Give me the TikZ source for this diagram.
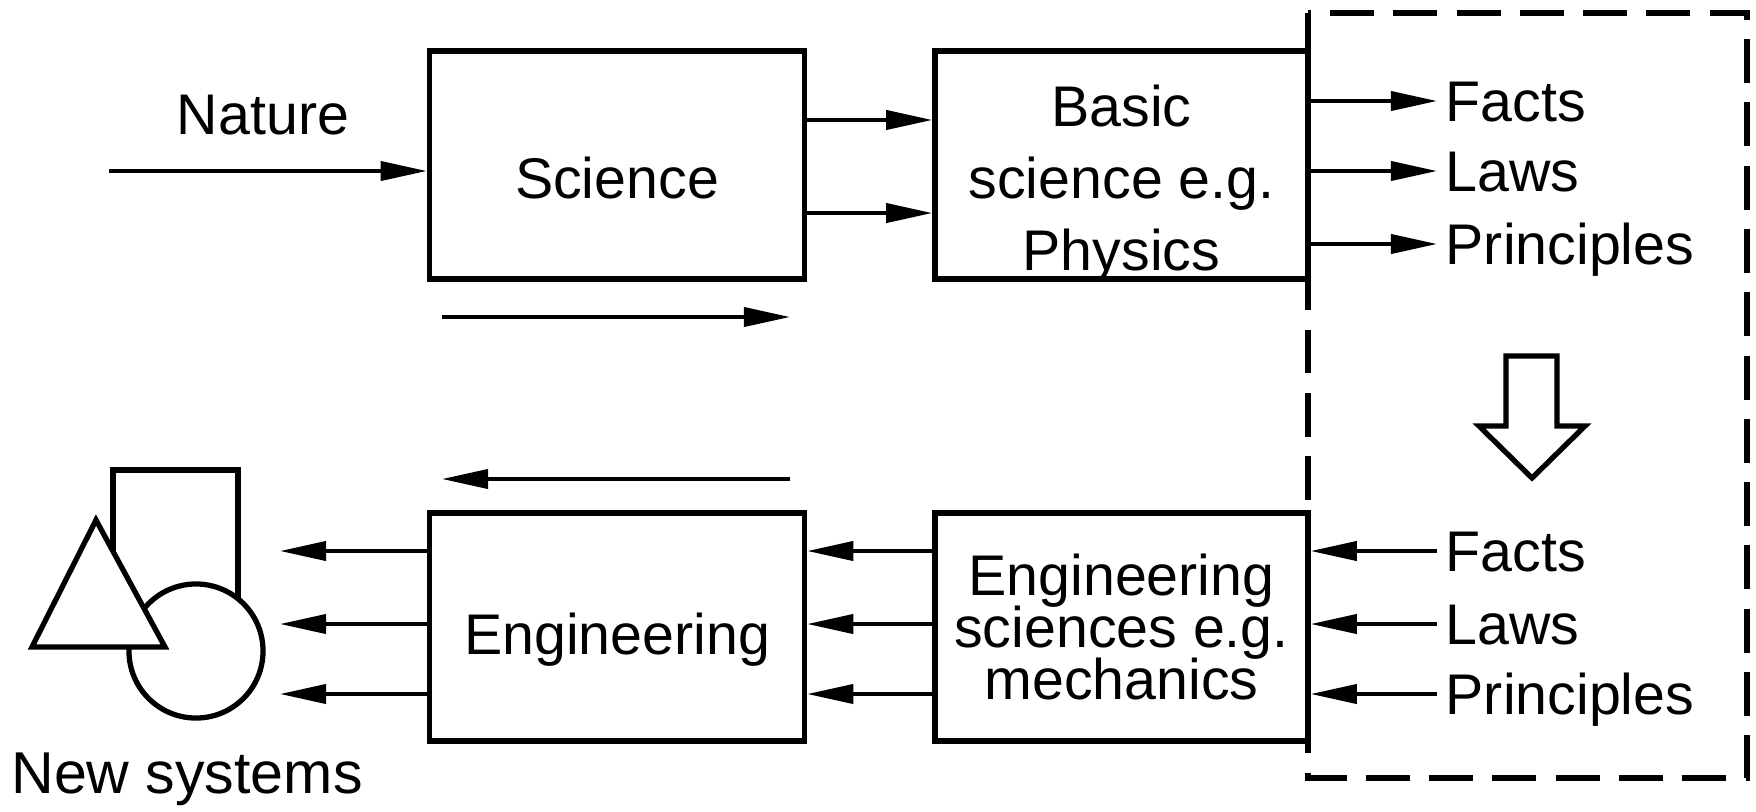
\documentclass[tikz,border=0pt]{standalone}
\usepackage{fontspec}
\setmainfont{Liberation Sans}
\usetikzlibrary{arrows.meta}

\tikzset{
  box/.style={draw,line width=1.5pt,minimum width=3.75cm,minimum height=2.28cm,inner sep=0pt,align=center},
  arr/.style={line width=1.1pt,-{Triangle[length=4.6mm,width=1.9mm]}},
  fact/.style={anchor=west,inner sep=0.08cm,text height=11.7pt,text depth=0pt},
  outline/.style={line width=1.5pt,fill=white},
}

\begin{document}
\begin{tikzpicture}[x=0.01cm,y=-0.01cm,font=\fontsize{16.3}{20.5}\selectfont]
  \useasboundingbox (0,0) rectangle (1756,811);

  % dashed frame round the laws
  \draw[line width=1.5pt,dash pattern=on 12.5pt off 5.5pt] (1308,13) rectangle (1747,778);
  \draw[line width=1.5pt] (1308,13) -- (1308,310);

  % the four blocks
  \node (sci) [box,label={[yshift=-0.13cm]center:Science}] at (617,165) {};
  \node (basic) [box,minimum width=3.73cm,
    label={[align=center,yshift=-0.19cm]center:Basic\\science e.g.\\Physics}] at (1121.5,165) {};
  \node (eng) [box,label={[yshift=-0.13cm]center:Engineering}] at (617,627) {};
  \node (engsci) [box,minimum width=3.73cm] at (1121.5,627) {Engineering\\[-5.7pt]sciences e.g.\\[-5.7pt]mechanics};

  % labels
  \node (nat) at (263,115) {Nature};
  \node (f1) [fact] at (1437,101) {Facts};
  \node (l1) [fact] at (1437,171) {Laws};
  \node (p1) [fact] at (1437,244) {Principles};
  \node (f2) [fact] at (1437,551) {Facts};
  \node (l2) [fact] at (1437,624) {Laws};
  \node (p2) [fact] at (1437,694) {Principles};
  \node (sys) [anchor=base,font=\fontsize{16.8}{20}\selectfont] at (187,793) {New systems};

  % connectors
  \coordinate (natin) at (109,171);
  \coordinate (sysin) at (280,624);
  \draw[arr] (natin) -- (natin -| sci.west);
  \foreach \s in {0.45,-0.48}
    \draw[arr] ([yshift=\s cm]sci.east) -- ([yshift=\s cm]basic.west);
  \foreach \n in {f1,l1,p1}
    \draw[arr] (basic.east |- \n) -- (\n.west);
  \foreach \n in {f2,l2,p2} {
    \draw[arr] (\n.west) -- (engsci.east |- \n);
    \draw[arr] (engsci.west |- \n) -- (eng.east |- \n);
    \draw[arr] (eng.west |- \n) -- (sysin |- \n);
  }

  % direction arrows
  \coordinate (sa) at (442,317); \coordinate (sb) at (790,317);
  \coordinate (ea) at (790,479); \coordinate (eb) at (442,479);
  \draw[arr] (sa) -- (sb);
  \draw[arr] (ea) -- (eb);

  % hollow arrow
  \draw[line width=1.5pt] (1506,356) -- (1557,356) -- (1557,426) -- (1585,426)
    -- (1532,478) -- (1479,426) -- (1506,426) -- cycle;

  % new systems
  \draw[outline] (113,470) rectangle (238,615);
  \draw[outline] (196,651) circle[radius=0.67cm];
  \draw[outline] (32,647) -- (96,520) -- (165,647) -- cycle;
\end{tikzpicture}
\end{document}
